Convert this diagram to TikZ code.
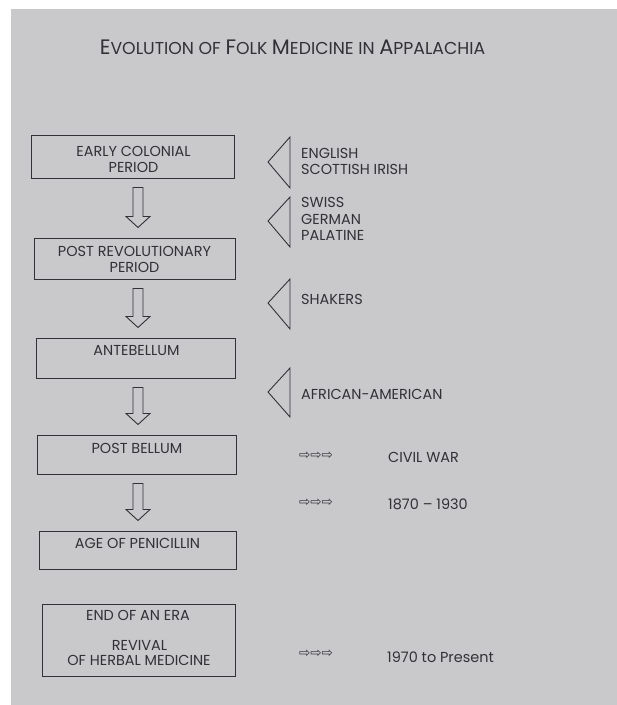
\documentclass[tikz,border=0pt]{standalone}
\usepackage{fontspec}
\setmainfont{Poppins}
\newfontfamily\arrowfont{DejaVu Sans}
\usetikzlibrary{calc}
\definecolor{paper}{RGB}{201,201,204}
\definecolor{ink}{RGB}{50,50,54}
\newcommand{\tbig}[1]{{\fontsize{21}{25}\selectfont #1}}
\newcommand{\tsml}[1]{{\fontsize{17.3}{20}\selectfont #1}}
\newcommand{\hollowdown}[2]{%
  \draw[harrow] let \p1=($(#1.south -| ax)+(0,9)$), \p2=($(#2.north -| ax)+(0,-10)$) in
    (\x1-5pt,\y1) -- (\x1+5pt,\y1) -- (\x1+5pt,\y2+11pt) -- (\x1+12pt,\y2+11pt)
    -- (\x1,\y2) -- (\x1-12pt,\y2+11pt) -- (\x1-5pt,\y2+11pt) -- cycle;}
\begin{document}
\begin{tikzpicture}[x=1bp,y=-1bp,
  frame/.style={draw=ink, line width=1bp, inner sep=0pt},
  btext/.style={text=ink, font=\fontsize{14.5}{17}\selectfont, inner sep=0pt, anchor=base},
  rtext/.style={text=ink, font=\fontsize{14.5}{17}\selectfont, inner sep=0pt, anchor=base west},
  glyphs/.style={text=ink, font=\arrowfont\fontsize{13.5}{15}\selectfont, inner sep=0pt, anchor=west},
  harrow/.style={draw=ink, line width=0.9bp, line join=miter},
  tri/.style={draw=ink, line width=0.9bp, line join=miter}]
\fill[white] (0,0) rectangle (617,705);
\fill[paper] (11,9) rectangle (617,705);
\useasboundingbox (0,0) rectangle (617,705);
\coordinate (ax) at (138,0);

% title
\node[text=ink, inner sep=0pt, anchor=base] (title) at (292.5,55)
  {\tbig{E}\tsml{VOLUTION OF }\tbig{F}\tsml{OLK }\tbig{M}\tsml{EDICINE IN }\tbig{A}\tsml{PPALACHIA}};

% boxes
\node[frame, minimum width=202bp, minimum height=42bp] (b1) at (133,157) {};
\node[frame, minimum width=200bp, minimum height=41bp] (b2) at (135,258.5) {};
\node[frame, minimum width=198bp, minimum height=40bp] (b3) at (136,358) {};
\node[frame, minimum width=198bp, minimum height=39bp] (b4) at (137,454.5) {};
\node[frame, minimum width=196bp, minimum height=38bp] (b5) at (138,550) {};
\node[frame, minimum width=192bp, minimum height=72bp] (b6) at (139,640) {};

\node[btext] (t1a) at (133.5,156) {EARLY COLONIAL};
\node[btext] (t1b) at (133.5,172) {PERIOD};
\node[btext] (t2a) at (134.5,256) {POST REVOLUTIONARY};
\node[btext] (t2b) at (134.5,272) {PERIOD};
\node[btext] (t3) at (136.5,355) {ANTEBELLUM};
\node[btext] (t4) at (137,453) {POST BELLUM};
\node[btext] (t5) at (137.5,548) {AGE OF PENICILLIN};
\node[btext] (t6a) at (138,620) {END OF AN ERA};
\node[btext] (t6b) at (139.5,650) {REVIVAL};
\node[btext] (t6c) at (139,665) {OF HERBAL MEDICINE};

% hollow arrows
\hollowdown{b1}{b2}
\hollowdown{b2}{b3}
\hollowdown{b3}{b4}
\hollowdown{b4}{b5}

% triangles
\draw[tri] (290,137) -- (268,162) -- (290,188) -- cycle;
\draw[tri] (290,197) -- (268,221) -- (290,247) -- cycle;
\draw[tri] (290,279) -- (268,303) -- (290,329) -- cycle;
\draw[tri] (290,368) -- (268,392) -- (290,417) -- cycle;

% right texts
\node[rtext] (r1a) at (301,158) {ENGLISH};
\node[rtext] (r1b) at (301,174) {SCOTTISH IRISH};
\node[rtext] (r2a) at (301,207) {SWISS};
\node[rtext] (r2b) at (301,224) {GERMAN};
\node[rtext] (r2c) at (301,240) {PALATINE};
\node[rtext] (r3) at (301,304) {SHAKERS};
\node[rtext] (r4) at (301,399) {AFRICAN-AMERICAN};

\node[glyphs] (g1) at (299,456) {⇨⇨⇨};
\node[glyphs] (g2) at (299,503) {⇨⇨⇨};
\node[glyphs] (g3) at (299,654) {⇨⇨⇨};
\node[rtext] (e1) at (388,462) {CIVIL WAR};
\node[rtext] (e2) at (388,509) {1870 – 1930};
\node[rtext] (e3) at (387,662) {1970 to Present};
\end{tikzpicture}
\end{document}
